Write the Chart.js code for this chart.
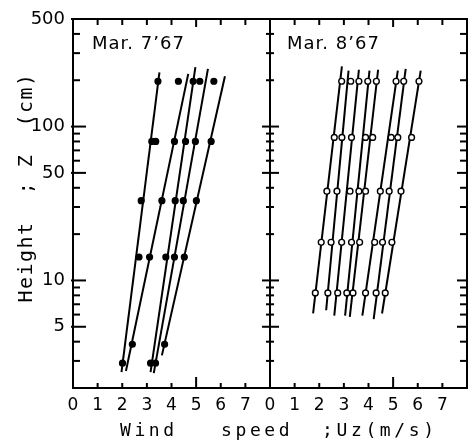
<!DOCTYPE html>
<html lang="en">
<head>
<meta charset="UTF-8">
<title>Wind profiles, Mar. 7 and Mar. 8 1967</title>
<script src="https://cdn.jsdelivr.net/npm/chart.js"></script>
<style>
  body { margin: 0; background: #fff; }
</style>
</head>
<body>
<canvas id="profileChart" width="474" height="440"></canvas>
<script>
// Mar. 7 '67 : measuring heights (cm) and the wind speeds (m/s) read at each of them
const mar7Heights = [197, 80, 33, 14.2, 3.85, 2.9];
const mar7Speeds = [
  [3.45, 4.28, 4.88, 5.15, 5.72],
  [3.2, 3.36, 4.12, 4.57, 4.97, 5.61],
  [2.77, 3.61, 4.15, 4.48, 5.01],
  [2.68, 3.11, 3.77, 4.12, 4.52],
  [2.41, 3.72],
  [2.01, 3.15, 3.35]
];
// fitted log profiles, [speed, height] at the lower and upper end of each line
const mar7FitLow = [[1.97, 2.54], [2.15, 2.58], [3.15, 2.54], [3.28, 2.5], [3.61, 3.26]];
const mar7FitHigh = [[3.51, 225], [4.68, 220], [4.97, 243], [5.48, 237], [6.17, 212]];

// Mar. 8 '67
const mar8Heights = [197, 85, 38, 17.7, 8.3];
const mar8Speeds = [
  [2.91, 3.28, 3.61, 3.97, 4.32, 5.12, 5.43, 6.05],
  [2.61, 2.92, 3.31, 3.88, 4.17, 4.92, 5.19, 5.75],
  [2.31, 2.72, 3.25, 3.61, 3.88, 4.48, 4.84, 5.32],
  [2.08, 2.48, 2.91, 3.31, 3.64, 4.25, 4.57, 4.95],
  [1.84, 2.35, 2.75, 3.12, 3.37, 3.88, 4.31, 4.68]
];
const mar8FitLow = [[1.75, 6.1], [2.28, 6.4], [2.61, 5.9], [3.05, 5.9], [3.24, 5.8], [3.75, 5.9], [4.21, 5.6], [4.55, 6.1]];
const mar8FitHigh = [[2.92, 246], [3.19, 231], [3.61, 234], [4.04, 231], [4.39, 234], [5.19, 231], [5.51, 237], [6.12, 231]];

const speedTicks = [0, 1, 2, 3, 4, 5, 6, 7, 8];
const heightTicks = [2, 3, 4, 5, 6, 7, 8, 9, 10, 20, 30, 40, 50, 60, 70, 80, 90, 100, 200, 300, 400, 500];
const heightLabels = [5, 10, 50, 100, 500];

Chart.defaults.font.family = '"DejaVu Sans", sans-serif';
Chart.defaults.color = '#000';

function fitLines(low, high, axis) {
    return low.map((p, i) => ({
        data: [{x: p[0], y: p[1]}, {x: high[i][0], y: high[i][1]}],
        xAxisID: axis,
        showLine: true,
        borderColor: '#000',
        borderWidth: 2,
        pointRadius: 0,
        order: 1
    }));
}

function obsPoints(heights, speeds, axis, fill) {
    return {
        data: speeds.flatMap((row, i) => row.map(u => ({x: u, y: heights[i]}))),
        xAxisID: axis,
        pointRadius: 2.9,
        pointBackgroundColor: fill,
        pointBorderColor: '#000',
        pointBorderWidth: 1.4,
        order: 0
    };
}

function speedAxis(weight) {
    return {
        type: 'linear',
        position: 'bottom',
        stack: 'speed',
        stackWeight: 1,
        weight: weight,
        min: 0,
        max: 8,
        grid: {display: false, drawTicks: false},
        border: {display: false},
        ticks: {
            padding: 7,
            maxRotation: 0,
            autoSkip: false,
            font: {size: 17},
            callback: v => v < 8 ? v : ''
        },
        afterBuildTicks: s => { s.ticks = speedTicks.map(v => ({value: v})); },
        afterFit: s => { s.height = 52; }
    };
}

// frame, inward tick marks, panel names and axis titles
const frameAndTitles = {
    id: 'frameAndTitles',
    afterDraw(chart) {
        const {ctx, chartArea: a, scales} = chart;
        const y = scales.y;
        const mid = scales.xR.left;
        const seg = (x0, y0, x1, y1) => {
            ctx.beginPath();
            ctx.moveTo(x0, y0);
            ctx.lineTo(x1, y1);
            ctx.stroke();
        };
        ctx.save();
        ctx.strokeStyle = '#000';
        ctx.lineWidth = 2;
        ctx.strokeRect(a.left, a.top, a.right - a.left, a.bottom - a.top);
        seg(mid, a.top, mid, a.bottom);

        y.ticks.forEach(t => {
            const py = y.getPixelForValue(t.value);
            const big = heightLabels.includes(t.value);
            seg(a.left - (big ? 2 : 0), py, a.left + (big ? 13 : 7), py);
            seg(mid - (big ? 8 : 4), py, mid + (big ? 9 : 4), py);
            seg(a.right - (big ? 10 : 7), py, a.right, py);
        });
        [scales.xL, scales.xR].forEach(s => s.ticks.forEach(t => {
            if (t.value === 0 || t.value === 8) return;
            const px = s.getPixelForValue(t.value);
            const big = t.value === 5;
            seg(px, a.bottom, px, a.bottom - (big ? 11 : 5));
            seg(px, a.top, px, a.top + (big ? 8 : 6));
        }));

        ctx.fillStyle = '#000';
        ctx.textBaseline = 'alphabetic';
        ctx.textAlign = 'left';
        ctx.font = '18px "DejaVu Sans"';
        ctx.letterSpacing = '1px';
        ctx.fillText('Mar. 7\u201967', scales.xL.left + 19, a.top + 30);
        ctx.fillText('Mar. 8\u201967', mid + 17, a.top + 30);

        ctx.font = '18px "DejaVu Sans Mono"';
        ctx.letterSpacing = '3.6px';
        ctx.fillText('Wind   speed  ;Uz(m/s)', a.left + 47, 436);

        ctx.font = '20px "DejaVu Sans Mono"';
        ctx.letterSpacing = '1.5px';
        ctx.translate(32, (a.top + a.bottom) / 2 - 16);
        ctx.rotate(-Math.PI / 2);
        ctx.textAlign = 'center';
        ctx.fillText('Height  ; Z  (cm)', 0, 0);
        ctx.restore();
    }
};

new Chart(document.getElementById('profileChart'), {
    type: 'scatter',
    data: {
        datasets: [
            obsPoints(mar7Heights, mar7Speeds, 'xL', '#000'),
            obsPoints(mar8Heights, mar8Speeds, 'xR', '#fff'),
            ...fitLines(mar7FitLow, mar7FitHigh, 'xL'),
            ...fitLines(mar8FitLow, mar8FitHigh, 'xR')
        ]
    },
    options: {
        responsive: false,
        animation: false,
        devicePixelRatio: 1,
        layout: {padding: {top: 19, right: 2, bottom: 0, left: 0}},
        plugins: {legend: {display: false}, tooltip: {enabled: false}},
        scales: {
            xL: speedAxis(0),
            xR: speedAxis(1),
            y: {
                type: 'logarithmic',
                position: 'left',
                min: 2,
                max: 500,
                grid: {display: false, drawTicks: false},
                border: {display: false},
                ticks: {
                    padding: 8,
                    autoSkip: false,
                    font: {size: 18},
                    callback: v => heightLabels.includes(v) ? String(v) : ''
                },
                afterBuildTicks: s => { s.ticks = heightTicks.map(v => ({value: v})); },
                afterFit: s => { s.width = 73; }
            }
        }
    },
    plugins: [frameAndTitles]
});
</script>
</body>
</html>
